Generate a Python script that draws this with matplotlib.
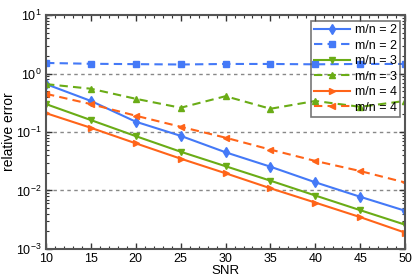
import numpy as np
import matplotlib
matplotlib.use("Agg")
import matplotlib.pyplot as plt
from matplotlib.ticker import LogLocator, MultipleLocator, NullFormatter

plt.rcParams["font.family"] = ["Liberation Sans", "DejaVu Sans"]
plt.rcParams["font.size"] = 9

# ------------------------------------------------------------------
# data
# ------------------------------------------------------------------
snr = [10, 15, 20, 25, 30, 35, 40, 45, 50]

err_m2_solid = [0.66, 0.34, 0.15, 0.086, 0.045, 0.0255, 0.0138, 0.0078, 0.0045]
err_m2_dash = [1.52, 1.47, 1.45, 1.43, 1.46, 1.46, 1.44, 1.46, 1.46]
err_m3_solid = [0.30, 0.16, 0.085, 0.046, 0.026, 0.0147, 0.0082, 0.0046, 0.0026]
err_m3_dash = [0.66, 0.55, 0.37, 0.26, 0.41, 0.25, 0.34, 0.27, 0.34]
err_m4_solid = [0.21, 0.118, 0.064, 0.035, 0.0197, 0.0109, 0.0062, 0.0035, 0.0019]
err_m4_dash = [0.45, 0.30, 0.19, 0.123, 0.08, 0.05, 0.032, 0.0215, 0.0137]

labels = ["m/n = 2", "m/n = 2", "m/n = 3", "m/n = 3", "m/n = 4", "m/n = 4"]

blue = "#4479f7"
green = "#6aac16"
orange = "#ff6419"

fig = plt.figure(figsize=(4.15, 2.8), dpi=100)
ax = fig.add_axes([0.111, 0.111, 0.865, 0.835])

series = [
    (err_m2_solid, blue, "-", "d"),
    (err_m2_dash, blue, "--", "s"),
    (err_m3_solid, green, "-", "v"),
    (err_m3_dash, green, "--", "^"),
    (err_m4_solid, orange, "-", ">"),
    (err_m4_dash, orange, "--", "<"),
]
for (vals, col, ls, mk), lab in zip(series, labels):
    line, = ax.plot(snr, vals, color=col, ls=ls, marker=mk, ms=5, lw=1.5, label=lab)
    if ls == "--":
        line.set_dashes((4, 2.5))

ax.set_yscale("log")
ax.set_xlim(10, 50)
ax.set_ylim(1e-3, 1e1)

for yv in [1e0, 1e-1, 1e-2]:
    ax.axhline(yv, color="#888888", ls=(0, (2.5, 2.5)), lw=1.0, zorder=0)

ax.xaxis.set_major_locator(MultipleLocator(5))
ax.xaxis.set_minor_locator(MultipleLocator(1))
ax.yaxis.set_major_locator(LogLocator(base=10, numticks=10))
ax.yaxis.set_minor_locator(LogLocator(base=10, subs=np.arange(2, 10) * 1.0, numticks=20))
ax.yaxis.set_minor_formatter(NullFormatter())

ax.tick_params(which="both", direction="in", top=True, right=True, color="#333333",
               labelsize=9, pad=3)
ax.tick_params(which="major", length=4, width=1)
ax.tick_params(which="minor", length=2, width=0.8)
for sp in ax.spines.values():
    sp.set_color("#555555")
    sp.set_linewidth(1.5)

ax.set_xlabel("SNR", fontsize=9.5, labelpad=0)
ax.set_ylabel("relative error", fontsize=10, labelpad=0)

leg = ax.legend(loc="upper right", frameon=True, fancybox=False,
                facecolor="none", edgecolor="#555555", handlelength=2.9,
                borderpad=0.25, labelspacing=0.28, handletextpad=0.35,
                borderaxespad=0, fontsize=9, bbox_to_anchor=(0.985, 0.975))
leg.get_frame().set_linewidth(1.2)

fig.savefig("out.png", dpi=100)
